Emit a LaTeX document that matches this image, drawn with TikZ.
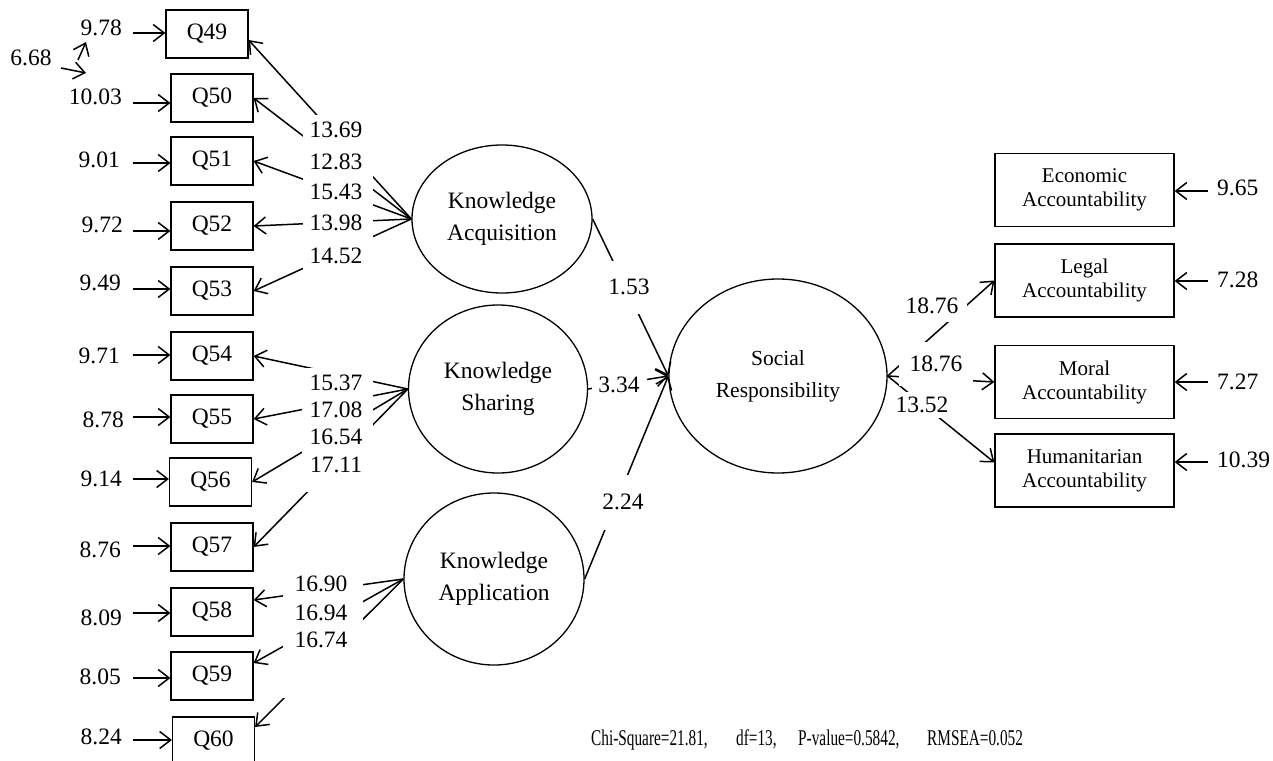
\documentclass[tikz,border=0pt]{standalone}
\usepackage{fontspec}
\setmainfont{Liberation Serif}
\usetikzlibrary{shapes.geometric,arrows.meta}
\newcommand\szmain{\fontsize{23.5pt}{31pt}\selectfont}
\newcommand\szlat{\fontsize{23.5pt}{32pt}\selectfont}
\newcommand\szsoc{\fontsize{21.5pt}{32pt}\selectfont}
\newcommand\szacc{\fontsize{21pt}{24pt}\selectfont}
\newcommand\szchi{\fontsize{22.5pt}{26pt}\selectfont}
\newcommand\narrowtxt[1]{\scalebox{0.68}[1]{#1}}
\begin{document}
\begin{tikzpicture}[x=1pt,y=-1pt,
  obs/.style={draw, line width=1.2pt, minimum width=82pt, minimum height=48pt, inner sep=0pt, font=\szmain},
  acc/.style={draw, line width=1.2pt, minimum width=179pt, minimum height=73pt, inner sep=0pt, align=center, font=\szacc},
  lat/.style={ellipse, draw, line width=1.3pt, inner sep=0pt, align=center},
  num/.style={inner sep=0pt, font=\szmain},
  mask/.style={fill=white, inner sep=0pt},
  fitst/.style={inner sep=0pt, anchor=base west, font=\szchi},
  arr/.style={line width=1.5pt, -{Straight Barb[length=11pt,width=17pt]}}]
\useasboundingbox (0,0) rectangle (1273,760);

% observed indicators
\node[obs] (q49) at (207,34) {Q49};
\node[obs] (q50) at (212,98) {Q50};
\node[obs] (q51) at (212,161) {Q51};
\node[obs] (q52) at (212,226) {Q52};
\node[obs] (q53) at (212,291) {Q53};
\node[obs] (q54) at (212,356) {Q54};
\node[obs] (q55) at (212,419) {Q55};
\node[obs] (q56) at (210.5,482) {Q56};
\node[obs] (q57) at (212,547) {Q57};
\node[obs] (q58) at (212,612) {Q58};
\node[obs] (q59) at (212,676) {Q59};
\node[obs] (q60) at (213.5,741) {Q60};

% latent variables
\node[lat, font=\szlat, minimum width=180pt, minimum height=148pt] (ka) at (502,219) {Knowledge\\Acquisition};
\node[lat, font=\szlat, minimum width=179pt, minimum height=168pt] (ks) at (498,389) {Knowledge\\Sharing};
\node[lat, font=\szlat, minimum width=180pt, minimum height=172pt] (kap) at (494,579) {Knowledge\\Application};
\node[lat, font=\szsoc, minimum width=218pt, minimum height=194pt] (sr) at (778,376) {Social\\Responsibility};

% accountability indicators
\node[acc] (eco) at (1084.5,190) {Economic\\Accountability};
\node[acc] (leg) at (1084.5,280.5) {Legal\\Accountability};
\node[acc] (mor) at (1084.5,382) {Moral\\Accountability};
\node[acc] (hum) at (1084.5,470.5) {Humanitarian\\Accountability};

% error variances, left
\node[num, anchor=east] (e49) at (122,28) {9.78};
\node[num, anchor=east] (e50) at (122,97) {10.03};
\node[num, anchor=east] (e51) at (120,160) {9.01};
\node[num, anchor=east] (e52) at (123,225) {9.72};
\node[num, anchor=east] (e53) at (121,283) {9.49};
\node[num, anchor=east] (e54) at (120,356) {9.71};
\node[num, anchor=east] (e55) at (124,420) {8.78};
\node[num, anchor=east] (e56) at (122,479) {9.14};
\node[num, anchor=east] (e57) at (121,550) {8.76};
\node[num, anchor=east] (e58) at (122,618) {8.09};
\node[num, anchor=east] (e59) at (121,677) {8.05};
\node[num, anchor=east] (e60) at (122,737) {8.24};
\coordinate (s49) at (133,33);
\coordinate (s50) at (133,103);
\coordinate (s51) at (133,163);
\coordinate (s52) at (133,231);
\coordinate (s53) at (133,289);
\coordinate (s54) at (133,355);
\coordinate (s55) at (133,417);
\coordinate (s56) at (133,479);
\coordinate (s57) at (133,546);
\coordinate (s58) at (133,613);
\coordinate (s59) at (133,678);
\coordinate (s60) at (133,740);
\foreach \i in {49,...,60}{\draw[arr] (s\i) -- (s\i -| q\i.west);}

% correlated errors
\node[num] (cov) at (31,58) {6.68};
\coordinate (ca) at (78,60);
\coordinate (cat) at (86,42);
\coordinate (cb) at (61,68);
\coordinate (cbt) at (86,73);
\draw[arr] (ca) -- (cat);
\draw[arr] (cb) -- (cbt);

% error variances, right
\node[num, anchor=west] (ee) at (1217,188) {9.65};
\node[num, anchor=west] (el) at (1217,280) {7.28};
\node[num, anchor=west] (em) at (1217,382) {7.27};
\node[num, anchor=west] (eh) at (1217,460) {10.39};
\coordinate (re) at (1208,191);
\coordinate (rl) at (1208,281);
\coordinate (rm) at (1208,382);
\coordinate (rh) at (1208,462);
\draw[arr] (re) -- (re -| eco.east);
\draw[arr] (rl) -- (rl -| leg.east);
\draw[arr] (rm) -- (rm -| mor.east);
\draw[arr] (rh) -- (rh -| hum.east);

% loadings
\draw[arr] (ka.west) -- ([yshift=-6pt]q49.east);
\draw[arr] (ka.west) -- (q50.east);
\draw[arr] (ka.west) -- (q51.east);
\draw[arr] (ka.west) -- (q52.east);
\draw[arr] (ka.west) -- (q53.east);
\draw[arr] (ks.west) -- (q54.east);
\draw[arr] (ks.west) -- (q55.east);
\draw[arr] (ks.west) -- (q56.east);
\draw[arr] (ks.west) -- (q57.east);
\draw[arr] (kap.west) -- ([yshift=12pt]q58.east);
\draw[arr] (kap.west) -- ([yshift=13pt]q59.east);
\draw[arr] (kap.west) -- ([yshift=14pt]q60.east);

% structural paths
\draw[arr] (ka.east) -- (sr.west);
\draw[arr] (ks.east) -- (sr.west);
\draw[arr] (kap.east) -- (sr.west);

% second order loadings
\draw[arr] (sr.east) -- (leg.west);
\draw[arr] (sr.east) -- (mor.west);
\draw[arr] (sr.east) -- ([yshift=8pt]hum.west);

% label masks
\node[mask, minimum width=70pt, minimum height=166pt] (kam) at (338,198) {};
\node[mask, minimum width=71pt, minimum height=124pt] (ksm) at (337.5,430) {};
\node[mask, minimum width=80pt, minimum height=126pt] (kapm) at (323,635) {};

\node[num] (l49) at (336,130) {13.69};
\node[num] (l50) at (336,162) {12.83};
\node[num] (l51) at (336,192) {15.43};
\node[num] (l52) at (336,223) {13.98};
\node[num] (l53) at (336,256) {14.52};
\node[num] (l54) at (336,383) {15.37};
\node[num] (l55) at (336,410) {17.08};
\node[num] (l56) at (336,437) {16.54};
\node[num] (l57) at (336,465) {17.11};
\node[num] (l58) at (321,584) {16.90};
\node[num] (l59) at (321,613) {16.94};
\node[num] (l60) at (321,640) {16.74};

\node[num, mask, minimum width=55pt, minimum height=53pt] (p1) at (629,287) {1.53};
\node[num, mask, minimum width=55pt, minimum height=28pt] (p2) at (619,385) {3.34};
\node[num, mask, minimum width=52pt, minimum height=55pt] (p3) at (623,502) {2.24};

\node[num, mask, minimum width=69pt, minimum height=32pt] (pl) at (932,306) {18.76};
\node[num, mask, minimum width=74pt, minimum height=44pt] (pm) at (936,364) {18.76};
\node[num, mask, minimum width=58pt, minimum height=26pt] (ph) at (922,405) {13.52};

% fit statistics
\node[fitst] (fit1) at (591,745) {\narrowtxt{Chi-Square=21.81,}};
\node[fitst] (fit2) at (736,745) {\narrowtxt{df=13,}};
\node[fitst] (fit3) at (798,745) {\narrowtxt{P-value=0.5842,}};
\node[fitst] (fit4) at (927,745) {\narrowtxt{RMSEA=0.052}};
\end{tikzpicture}
\end{document}
